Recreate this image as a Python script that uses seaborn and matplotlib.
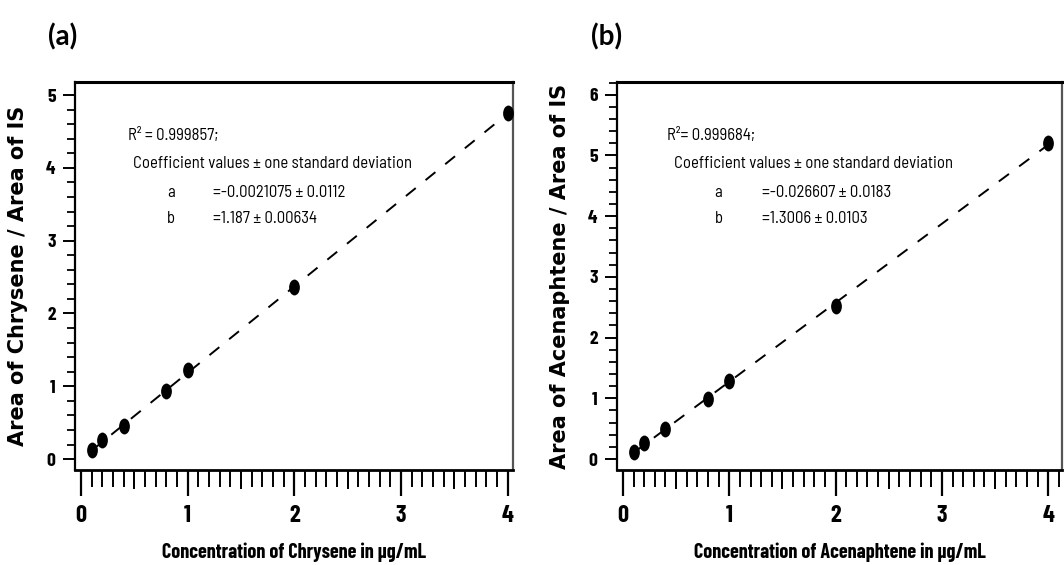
import numpy as np
import pandas as pd
import matplotlib
matplotlib.use("Agg")
import matplotlib.pyplot as plt
from matplotlib.markers import MarkerStyle
from matplotlib.path import Path
from matplotlib.transforms import Affine2D
from matplotlib.ticker import MultipleLocator, FixedLocator, NullFormatter
import seaborn as sns

# Calibration standards (µg/mL) and measured peak-area ratios
concentration = [0.1, 0.2, 0.4, 0.8, 1.0, 2.0, 4.0]
chrysene_ratio = [0.12, 0.26, 0.45, 0.93, 1.22, 2.37, 4.75]
acenaphtene_ratio = [0.11, 0.26, 0.50, 0.99, 1.28, 2.52, 5.21]

# Linear fit y = a + b*x with one standard deviation
chrysene_fit = {"r2": "0.999857", "a": -0.0021075, "a_sd": "0.0112", "b": 1.187, "b_sd": "0.00634"}
acenaphtene_fit = {"r2": "0.999684", "a": -0.026607, "a_sd": "0.0183", "b": 1.3006, "b_sd": "0.0103"}

sns.set_style("ticks")
NARROW = ["Barlow Condensed", "Liberation Sans", "DejaVu Sans"]
NOTE = ["Barlow Semi Condensed", "Liberation Sans", "DejaVu Sans"]
WIDE = ["DejaVu Sans"]
PANEL = ["Lato", "Open Sans", "DejaVu Sans"]
plt.rcParams["font.family"] = NARROW
plt.rcParams["text.color"] = "black"
plt.rcParams["axes.labelcolor"] = "black"
plt.rcParams["xtick.color"] = "black"
plt.rcParams["ytick.color"] = "black"

fig = plt.figure(figsize=(10.64, 5.65), dpi=100)
ax_a = fig.add_axes([75 / 1064, 95 / 565, 438 / 1064, 388 / 565])
ax_b = fig.add_axes([617 / 1064, 95 / 565, 445 / 1064, 388 / 565])

# Vertically elongated dot used for the standards
ellipse = MarkerStyle(Path.unit_circle().transformed(Affine2D().scale(0.68, 1.0)))


def draw_panel(ax, ratio, fit, compound, ylim, xlim, r2_sep, pos):
    df = pd.DataFrame({"x": concentration, "y": ratio})
    xs = np.array([min(concentration), max(concentration)])
    line = pd.DataFrame({"x": xs, "y": fit["a"] + fit["b"] * xs})
    sns.lineplot(data=line, x="x", y="y", ax=ax, color="black", lw=1.4,
                 linestyle=(0, (6.5, 6.5)), zorder=2)
    sns.scatterplot(data=df, x="x", y="y", ax=ax, marker=ellipse, s=130,
                    color="black", edgecolor="black", linewidth=0, zorder=3)

    ax.set_xlim(*xlim)
    ax.set_ylim(*ylim)
    ax.xaxis.set_major_locator(MultipleLocator(1))
    ax.xaxis.set_minor_locator(MultipleLocator(0.1))
    ax.yaxis.set_major_locator(MultipleLocator(1))
    ax.yaxis.set_minor_locator(MultipleLocator(0.2))
    ax.xaxis.set_major_formatter(plt.FuncFormatter(lambda v, p: f"{v:.0f}"))
    ax.yaxis.set_major_formatter(plt.FuncFormatter(lambda v, p: f"{v:.0f}"))

    ax.tick_params(axis="x", which="major", direction="out", length=19, width=1.6,
                   pad=6, labelsize=17.5)
    ax.tick_params(axis="x", which="minor", direction="out", length=12, width=1.4)
    ax.tick_params(axis="y", which="major", direction="out", length=9, width=1.4,
                   pad=5, labelsize=14)
    ax.tick_params(axis="y", which="minor", direction="out", length=5.5, width=1.3)
    for lab in ax.get_xticklabels() + ax.get_yticklabels():
        lab.set_fontweight("bold")

    # Half-unit ticks slightly longer than the tenths
    half = ax.secondary_xaxis("bottom")
    half.xaxis.set_major_locator(FixedLocator([0.5, 1.5, 2.5, 3.5]))
    half.xaxis.set_major_formatter(NullFormatter())
    half.tick_params(axis="x", length=14, width=1.4, direction="out")
    half.spines["bottom"].set_visible(False)

    for side in ["left", "right", "top", "bottom"]:
        ax.spines[side].set_visible(True)
        ax.spines[side].set_color("black")
    ax.spines["top"].set_linewidth(2.2)
    ax.spines["bottom"].set_linewidth(2.0)
    ax.spines["left"].set_linewidth(1.6)
    ax.spines["right"].set_linewidth(1.6)
    ax.spines["right"].set_color("#555555")

    ax.set_xlabel(f"Concentration of {compound} in µg/mL", fontsize=14.5,
                  fontweight="bold")
    ax.xaxis.label.set_va("baseline")
    ax.xaxis.set_label_coords(0.5, -0.227)
    ax.set_ylabel(f"Area of {compound} / Area of IS", fontsize=15,
                  fontweight="bold", family=WIDE)
    ax.yaxis.label.set_va("center")
    ax.yaxis.set_label_coords(pos["ylab"], 0.5)

    t = ax.transAxes
    fs = 12
    kw = dict(transform=t, fontsize=fs, va="baseline", family=NOTE)
    ax.text(pos["r2"], 0.851, f"R²{r2_sep}= {fit['r2']};", ha="left", **kw)
    ax.text(pos["coef"], 0.778, "Coefficient values ± one standard deviation",
            ha="left", **kw)
    ax.text(pos["ab"], 0.704, "a", ha="center", **kw)
    ax.text(pos["eq"], 0.704, f"={fit['a']} ± {fit['a_sd']}", ha="left", **kw)
    ax.text(pos["ab"], 0.637, "b", ha="center", **kw)
    ax.text(pos["eq"], 0.637, f"={fit['b']} ± {fit['b_sd']}", ha="left", **kw)


draw_panel(ax_a, chrysene_ratio, chrysene_fit, "Chrysene",
           ylim=(-0.15, 5.18), xlim=(-0.056, 4.05), r2_sep=" ",
           pos={"ylab": -0.130, "r2": 0.121, "coef": 0.132, "ab": 0.219, "eq": 0.315})
draw_panel(ax_b, acenaphtene_ratio, acenaphtene_fit, "Acenaphtene",
           ylim=(-0.18, 6.21), xlim=(-0.056, 4.13), r2_sep="",
           pos={"ylab": -0.128, "r2": 0.112, "coef": 0.128, "ab": 0.228, "eq": 0.325})

fig.text(63 / 1064, 1 - 37 / 565, "(a)", fontsize=20, fontweight="bold",
         family=PANEL, ha="center", va="center")
fig.text(607 / 1064, 1 - 37 / 565, "(b)", fontsize=20, fontweight="bold",
         family=PANEL, ha="center", va="center")

fig.savefig("out.png", dpi=100, facecolor="white")
